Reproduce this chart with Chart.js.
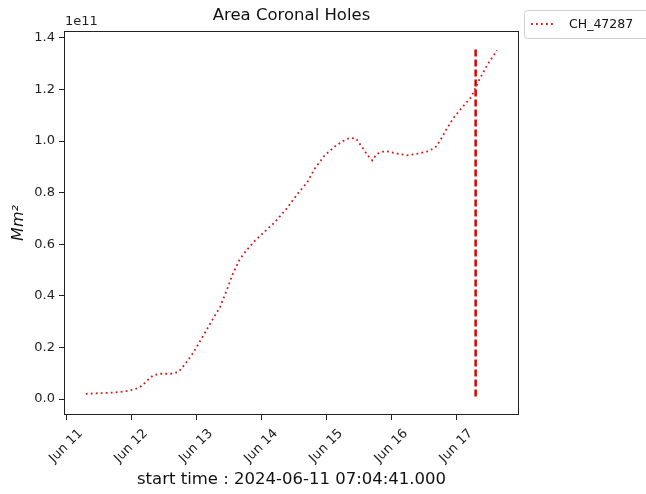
<!DOCTYPE html>
<html>
<head>
<meta charset="utf-8">
<script src="https://cdn.jsdelivr.net/npm/chart.js@4.4.1/dist/chart.umd.min.js"></script>
<style>
  html, body { margin: 0; padding: 0; background: #fff; }
  canvas { display: block; }
</style>
</head>
<body>
<canvas id="areaChart" width="646" height="494"></canvas>
<script>
// time in days since 2024-06-11 00:00, area in units of 1e11 Mm^2
var days = [0.295, 0.45, 0.65, 0.82, 0.95, 1.05, 1.15, 1.25, 1.33, 1.45, 1.60, 1.72, 1.82, 1.95,
    2.10, 2.25, 2.36, 2.46, 2.56, 2.66, 2.76, 2.90, 3.05, 3.20, 3.39, 3.55, 3.70, 3.82, 3.97,
    4.13, 4.25, 4.35, 4.45, 4.55, 4.63, 4.70, 4.77, 4.90, 5.08, 5.23, 5.41, 5.55, 5.67, 5.75,
    5.85, 5.95, 6.08, 6.22, 6.35, 6.48, 6.62];
var area = [0.020, 0.022, 0.024, 0.027, 0.032, 0.038, 0.050, 0.074, 0.092, 0.098, 0.098, 0.105, 0.135, 0.180,
    0.245, 0.310, 0.357, 0.420, 0.488, 0.540, 0.575, 0.615, 0.650, 0.685, 0.740, 0.795, 0.840, 0.895, 0.945,
    0.980, 1.000, 1.012, 1.010, 0.975, 0.945, 0.925, 0.950, 0.962, 0.952, 0.945, 0.952, 0.960, 0.975, 1.005,
    1.050, 1.090, 1.130, 1.170, 1.240, 1.300, 1.352];

// vertical marker
var markerDay = 6.29;
var markerRange = [0.01, 1.36];

var xTicks = [0, 1, 2, 3, 4, 5, 6];
var xTickLabels = ['Jun 11', 'Jun 12', 'Jun 13', 'Jun 14', 'Jun 15', 'Jun 16', 'Jun 17'];
var yTicks = [0, 0.2, 0.4, 0.6, 0.8, 1.0, 1.2, 1.4];

var seriesName = 'CH_47287';
var FONT = 'DejaVu Sans';
var INK = '#222';

var points = days.map(function(d, i) { return {x: d, y: area[i]}; });
var markerPoints = markerRange.map(function(v) { return {x: markerDay, y: v}; });

// title, offset text, frame and legend drawn like matplotlib
var extras = {
    id: 'extras',
    afterDraw: function(chart) {
        var c = chart.ctx, a = chart.chartArea;
        c.save();
        c.strokeStyle = INK;
        c.lineWidth = 1;
        c.strokeRect(a.left + 0.5, a.top + 0.5, a.right - a.left - 1, a.bottom - a.top - 1);

        c.fillStyle = '#111';
        c.font = '16.5px "' + FONT + '"';
        c.textAlign = 'center';
        c.textBaseline = 'middle';
        c.fillText('Area Coronal Holes', (a.left + a.right) / 2, 16);

        c.font = '13px "' + FONT + '"';
        c.textAlign = 'left';
        c.fillStyle = INK;
        c.fillText('1e11', a.left + 1, 22);

        // legend
        var lx = 524, ly = 10, lw = 140, lh = 28;
        c.strokeStyle = '#d0d0d0';
        c.fillStyle = '#fff';
        c.beginPath();
        c.roundRect(lx + 0.5, ly + 0.5, lw, lh, 3);
        c.fill();
        c.stroke();
        c.strokeStyle = '#d81818';
        c.lineWidth = 1.8;
        c.setLineDash([1.8, 3.2]);
        c.beginPath();
        c.moveTo(531, ly + lh / 2);
        c.lineTo(555, ly + lh / 2);
        c.stroke();
        c.setLineDash([]);
        c.fillStyle = '#111';
        c.font = '12.5px "' + FONT + '"';
        c.textBaseline = 'middle';
        c.fillText(seriesName, 569, ly + lh / 2 + 1);
        c.restore();
    }
};

var ctx = document.getElementById('areaChart').getContext('2d');
var areaChart = new Chart(ctx, {
    type: 'line',
    data: {
        datasets: [{
            label: seriesName,
            data: points,
            borderColor: '#d81818',
            borderWidth: 1.8,
            borderDash: [1.8, 3.2],
            pointRadius: 0,
            fill: false,
            tension: 0
        }, {
            label: 'marker',
            data: markerPoints,
            borderColor: '#e00000',
            borderWidth: 2.5,
            borderDash: [7, 3],
            pointRadius: 0,
            fill: false
        }]
    },
    options: {
        responsive: false,
        animation: false,
        layout: {
            padding: {left: 0, top: 31, right: 127, bottom: 0}
        },
        plugins: {
            legend: {display: false},
            tooltip: {enabled: false}
        },
        scales: {
            x: {
                type: 'linear',
                min: -0.04,
                max: 6.957,
                afterBuildTicks: function(scale) {
                    scale.ticks = xTicks.map(function(v) { return {value: v}; });
                },
                afterFit: function(scale) { scale.height = 79; },
                ticks: {
                    autoSkip: false,
                    minRotation: 45,
                    maxRotation: 45,
                    labelOffset: 14,
                    padding: 6,
                    color: INK,
                    font: {family: FONT, size: 13},
                    callback: function(v) {
                        var i = xTicks.indexOf(v);
                        return i >= 0 ? xTickLabels[i] : '';
                    }
                },
                grid: {drawOnChartArea: false, tickLength: 5, color: INK},
                border: {display: false},
                title: {
                    display: true,
                    text: 'start time : 2024-06-11 07:04:41.000',
                    color: '#111',
                    font: {family: FONT, size: 16.5},
                    padding: {top: 0, bottom: 4}
                }
            },
            y: {
                min: -0.062,
                max: 1.427,
                afterBuildTicks: function(scale) {
                    scale.ticks = yTicks.map(function(v) { return {value: v}; });
                },
                afterFit: function(scale) { scale.width = 64; },
                ticks: {
                    padding: 4,
                    color: INK,
                    font: {family: FONT, size: 13},
                    callback: function(v) { return v.toFixed(1); }
                },
                grid: {drawOnChartArea: false, tickLength: 5, color: INK},
                border: {display: false},
                title: {
                    display: true,
                    text: 'Mm²',
                    color: '#111',
                    font: {family: FONT, size: 16, style: 'italic'},
                    padding: {top: 9, bottom: 0}
                }
            }
        }
    },
    plugins: [extras]
});
</script>
</body>
</html>
